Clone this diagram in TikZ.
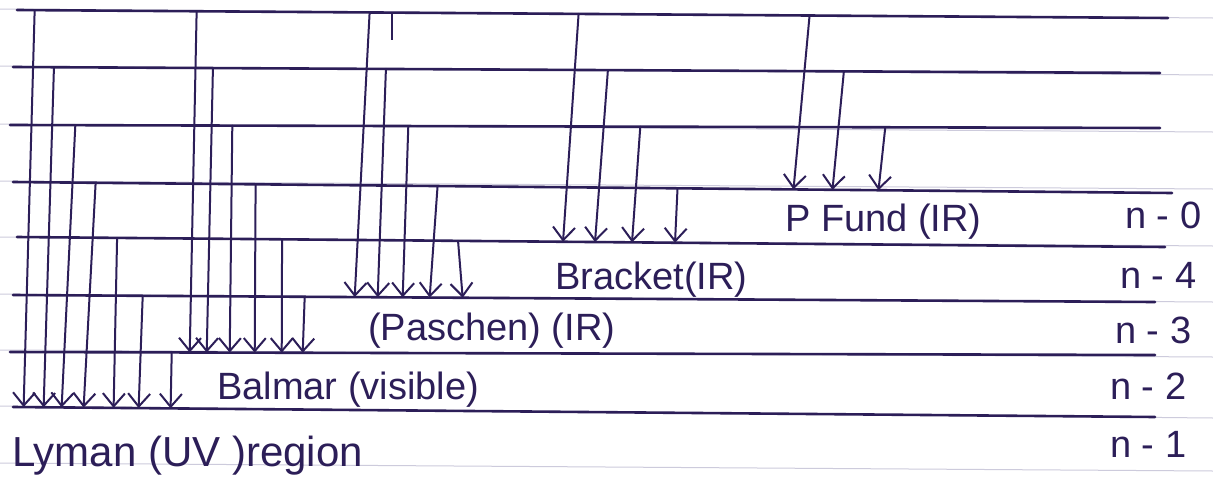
\documentclass[tikz,border=0pt]{standalone}
\usepackage{fontspec}
\setmainfont{Liberation Sans}
\usetikzlibrary{arrows.meta}
\usetikzlibrary{calc}

\definecolor{ink}{RGB}{44,30,88}
\definecolor{paperrule}{RGB}{205,203,220}

\tikzset{
  level/.style={draw=ink, line width=2.6pt, line cap=round},
  trans/.style={draw=ink, line width=2pt, line cap=round,
    -{Straight Barb[length=13pt,width=22pt,line width=2pt]}},
  lbl/.style={text=ink, font=\fontsize{38}{40}\selectfont, inner sep=0pt, anchor=west},
}

\begin{document}
\begin{tikzpicture}[x=1pt, y=-1pt]
  \useasboundingbox (0,0) rectangle (1213,493);
  \fill[white] (0,0) rectangle (1213,493);

  % ruled paper
  \foreach \ya/\yb in {9/18, 66/75, 124/132, 181/189, 237/246, 294/302, 350/357, 406/418, 463/471}
    \draw[paperrule, line width=1pt] (0,\ya) -- (1213,\yb);

  % energy levels, 1 = lowest
  \coordinate (u8) at (17,10);  \coordinate (v8) at (1168,18);
  \coordinate (u7) at (13,67);  \coordinate (v7) at (1160,73);
  \coordinate (u6) at (10,125); \coordinate (v6) at (1160,128);
  \coordinate (u5) at (13,182); \coordinate (v5) at (1172,193);
  \coordinate (u4) at (17,237); \coordinate (v4) at (1165,247);
  \coordinate (u3) at (13,295); \coordinate (v3) at (1155,302);
  \coordinate (u2) at (10,352); \coordinate (v2) at (1155,355);
  \coordinate (u1) at (13,407); \coordinate (v1) at (1155,417);
  \foreach \n in {1,...,8}
    \draw[level] (u\n) -- (v\n);

  % transitions: x at start / upper level / x at tip / lower level
  \foreach \xa/\la/\xb/\lb in {
      33/8/25/1, 53/7/45/1, 75/6/63/1, 95/5/85/1, 117/4/115/1, 143/3/140/1, 172/2/172/1,
      195/8/190/2, 212/7/207/2, 232/6/230/2, 255/5/255/2, 282/4/282/2, 305/3/303/2,
      368/8/355/3, 385/7/378/3, 408/6/403/3, 437/5/430/3, 458/4/463/3,
      577/8/563/4, 607/7/595/4, 640/6/632/4, 677/5/675/4,
      808/8/793/5, 843/7/832/5, 885/6/878/5}
    \draw[trans] ($(u\la)!(\xa,250)!(v\la)$) -- ($(u\lb)!(\xb,250)!(v\lb)$);
  \draw[ink, line width=2pt] (392,13) -- (392,40);

  % series names
  \node[lbl, font=\fontsize{42}{44}\selectfont] (lyman) at (12,456) {Lyman (UV )region};
  \node[lbl] (balmer) at (217,390) {Balmar (visible)};
  \node[lbl] (paschen) at (368,331) {(Paschen) (IR)};
  \node[lbl] (brackett) at (555,280) {Bracket(IR)};
  \node[lbl] (pfund) at (785,222) {P Fund (IR)};

  % level numbers
  \node[lbl] (n0) at (1125,215) {n - 0};
  \node[lbl] (n4) at (1120,275) {n - 4};
  \node[lbl] (n3) at (1115,330) {n - 3};
  \node[lbl] (n2) at (1110,386) {n - 2};
  \node[lbl] (n1) at (1110,444) {n - 1};
\end{tikzpicture}
\end{document}
